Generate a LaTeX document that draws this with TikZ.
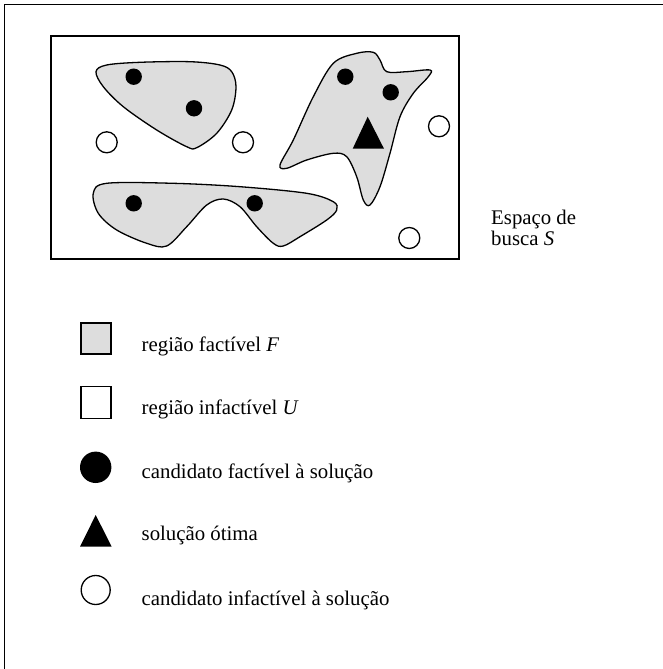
\documentclass[tikz,border=0pt]{standalone}
\usepackage{fontspec}
\setmainfont{Liberation Serif}
\definecolor{feas}{RGB}{221,221,221}
\begin{document}
\begin{tikzpicture}[x=1pt,y=-1pt,
  outline/.style={line width=1.3pt},
  blob/.style={outline,fill=feas},
  dotf/.style={fill=black},
  doto/.style={outline,fill=white},
  lbl/.style={anchor=base west,inner sep=0pt,font=\fontsize{20.8}{24}\selectfont},
  ]
\useasboundingbox (0,0) rectangle (662,669);
% outer frame (only top and left visible)
\draw[line width=1.5pt] (4.5,675) -- (4.5,4.5) -- (670,4.5);
% search space
\draw[outline] (51,36) rectangle (459,259);
% feasible regions
\draw[blob] plot[smooth cycle,tension=0.55] coordinates {
 (96,71.7) (106.7,65) (140,62.3) (190,61.7) (220,65) (231.7,71.7) (236,86.7)
 (231.7,110) (216.7,133.3) (196.7,147.7) (186.7,146.7) (156.7,130) (123.3,106.7) (103.3,86.7)};
\draw[blob] plot[smooth cycle,tension=0.55] coordinates {
 (280,165) (293.3,140) (313.3,96.7) (333.3,63.3) (356.7,53.3) (373.3,52.3) (380,60)
 (386.7,71.7) (406.7,71.7) (430,70) (428.3,76.7) (413.3,93.3) (400,116.7) (390,153.3)
 (380,186.7) (370,205) (363.3,200) (356.7,176.7) (346.7,156.7) (333.3,153.3) (306.7,160) (286.7,168.3)};
\draw[blob] plot[smooth cycle,tension=0.55] coordinates {
 (93.3,193.3) (106.7,183.3) (173.3,183.3) (240,186.7) (306.7,193.3) (333.3,201.7) (336.7,210)
 (326.7,220) (300,236.7) (283.3,246) (273.3,243.3) (256.7,226.7) (240,206.7) (223.3,199)
 (206.7,205) (186.7,226.7) (166.7,246) (146.7,243.3) (116.7,230) (98.3,213.3)};
% feasible candidates
\fill[dotf] (133.7,76.7) circle (8.2);
\fill[dotf] (194,108.3) circle (8.2);
\fill[dotf] (345.3,76.7) circle (8.2);
\fill[dotf] (390.7,92.3) circle (8.2);
\fill[dotf] (133.7,203.3) circle (8.2);
\fill[dotf] (254.7,203.3) circle (8.2);
% optimum
\fill (367.7,116.7) -- (384,148.7) -- (352.7,148.7) -- cycle;
% infeasible candidates
\draw[doto] (106.7,142.3) circle (10.5);
\draw[doto] (243,142.3) circle (10.5);
\draw[doto] (439,126.3) circle (10.5);
\draw[doto] (409.3,238) circle (10.5);
% label of search space
\node[lbl] (s1) at (491,224.3) {Espaço de};
\node[lbl] (s2) at (491,245) {busca \textit{S}};
% legend
\draw[outline,fill=feas] (81,323) rectangle (111,354);
\draw[outline,fill=white] (81,386.7) rectangle (111,418.3);
\fill (95.7,467.3) circle (15.7);
\fill (95.7,515) -- (111.7,546.7) -- (80,546.7) -- cycle;
\draw[outline] (95.7,590) circle (14.5);
\node[lbl] (l1) at (141.5,351.7) {região factível \textit{F}};
\node[lbl] (l2) at (141.5,414) {região infactível \textit{U}};
\node[lbl] (l3) at (141.5,478.3) {candidato factível à solução};
\node[lbl] (l4) at (141.5,540.5) {solução ótima};
\node[lbl] (l5) at (141.5,605) {candidato infactível à solução};
\end{tikzpicture}
\end{document}
